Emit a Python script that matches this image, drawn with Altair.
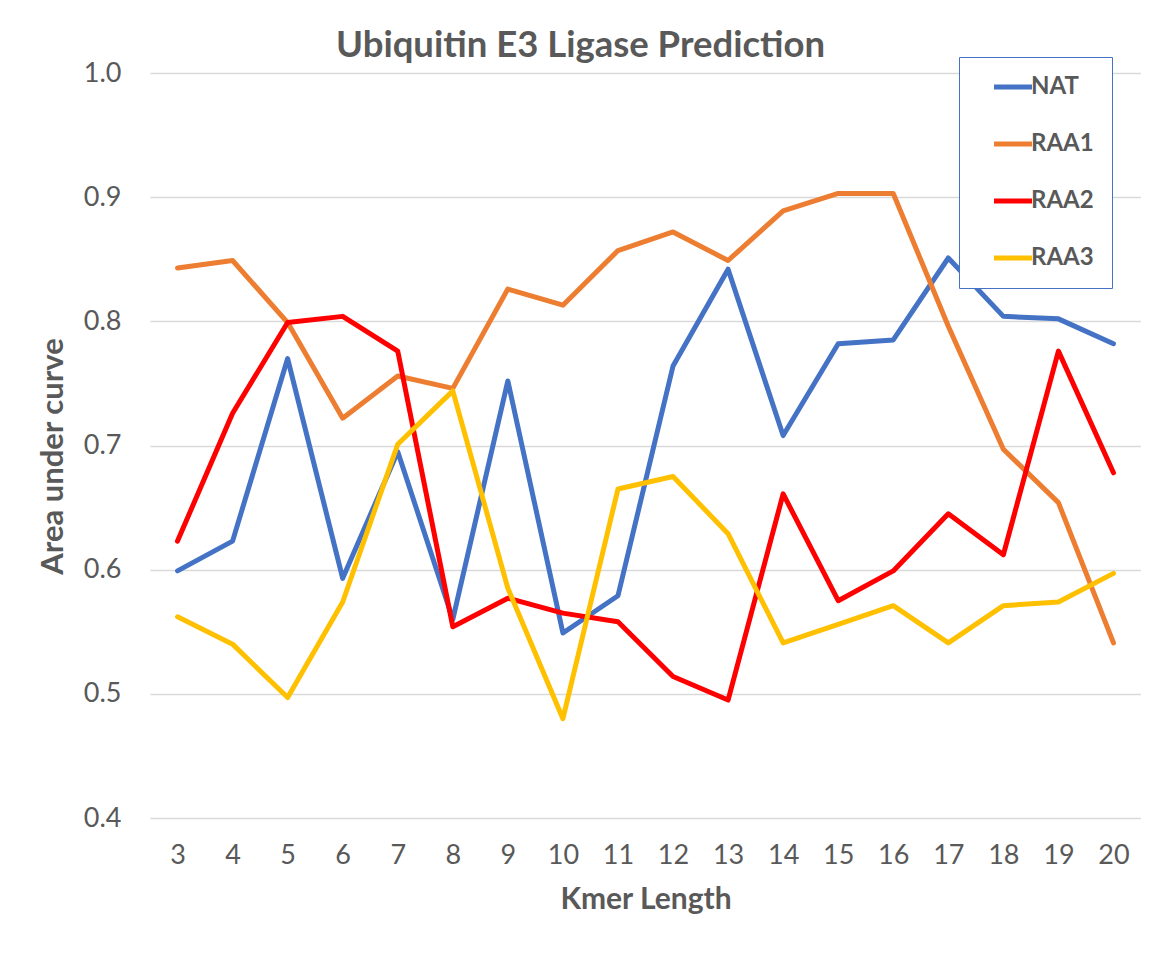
import altair as alt
import pandas as pd

kmer = list(range(3, 21))
series_names = ["NAT", "RAA1", "RAA2", "RAA3"]
nat = [0.599, 0.623, 0.770, 0.593, 0.695, 0.560, 0.752, 0.549, 0.579, 0.764,
       0.842, 0.708, 0.782, 0.785, 0.851, 0.804, 0.802, 0.782]
raa1 = [0.843, 0.849, 0.799, 0.722, 0.756, 0.746, 0.826, 0.813, 0.857, 0.872,
        0.849, 0.889, 0.903, 0.903, 0.796, 0.697, 0.654, 0.541]
raa2 = [0.623, 0.726, 0.799, 0.804, 0.776, 0.554, 0.577, 0.565, 0.558, 0.514,
        0.495, 0.661, 0.575, 0.599, 0.645, 0.612, 0.776, 0.678]
raa3 = [0.562, 0.540, 0.497, 0.574, 0.701, 0.744, 0.585, 0.480, 0.665, 0.675,
        0.629, 0.541, 0.556, 0.571, 0.541, 0.571, 0.574, 0.597]
colors = ["#4472C4", "#ED7D31", "#FF0000", "#FFC000"]
y_ticks = [0.4, 0.5, 0.6, 0.7, 0.8, 0.9, 1.0]

rows = []
for name, vals in zip(series_names, [nat, raa1, raa2, raa3]):
    for k, v in zip(kmer, vals):
        rows.append({"Kmer": k, "AUC": v, "Series": name})
df = pd.DataFrame(rows)

FONT = "Lato"
GREY = "#595959"

chart = alt.Chart(df).mark_line(
    strokeWidth=5, strokeCap="round", strokeJoin="round"
).encode(
    x=alt.X("Kmer:O",
            scale=alt.Scale(type="point", padding=0.5),
            axis=alt.Axis(title="Kmer Length", labelAngle=0, grid=False,
                          domain=False, ticks=False, labelPadding=24,
                          titlePadding=16, titleFontSize=30)),
    y=alt.Y("AUC:Q",
            scale=alt.Scale(domain=[0.4, 1.0], nice=False, zero=False),
            axis=alt.Axis(title="Area under curve", values=y_ticks, format=".1f",
                          domain=False, ticks=False, labelPadding=29,
                          titlePadding=14, titleFontSize=31, titleY=383,
                          gridColor="#D9D9D9", gridWidth=1.3)),
    color=alt.Color("Series:N",
                    scale=alt.Scale(domain=series_names, range=colors),
                    sort=series_names,
                    legend=alt.Legend(
                        title=None, orient="none", legendX=809, legendY=-16,
                        symbolType="M-3.8,0H3.8", symbolSize=100,
                        symbolStrokeWidth=5, symbolOffset=24, labelOffset=6,
                        rowPadding=33, padding=18,
                        strokeColor="#4472C4", fillColor="white",
                        labelFont=FONT, labelFontSize=24, labelFontWeight="bold",
                        labelColor=GREY)),
).properties(
    width=991,
    height=745,
    title=alt.TitleParams("Ubiquitin E3 Ligase Prediction", font=FONT,
                          fontSize=36.5, fontWeight="bold", color=GREY,
                          anchor="middle", dx=-65, dy=22, offset=14),
    autosize=alt.AutoSizeParams(type="none"),
    padding={"left": 142, "top": 65, "right": 0, "bottom": 125},
    background="white",
).configure_view(
    stroke=None
).configure_axis(
    labelFont=FONT, labelFontSize=27, labelColor=GREY,
    titleFont=FONT, titleFontWeight="bold", titleColor=GREY
)

chart.save("out.html", embed_options={"renderer": "svg", "actions": False})
